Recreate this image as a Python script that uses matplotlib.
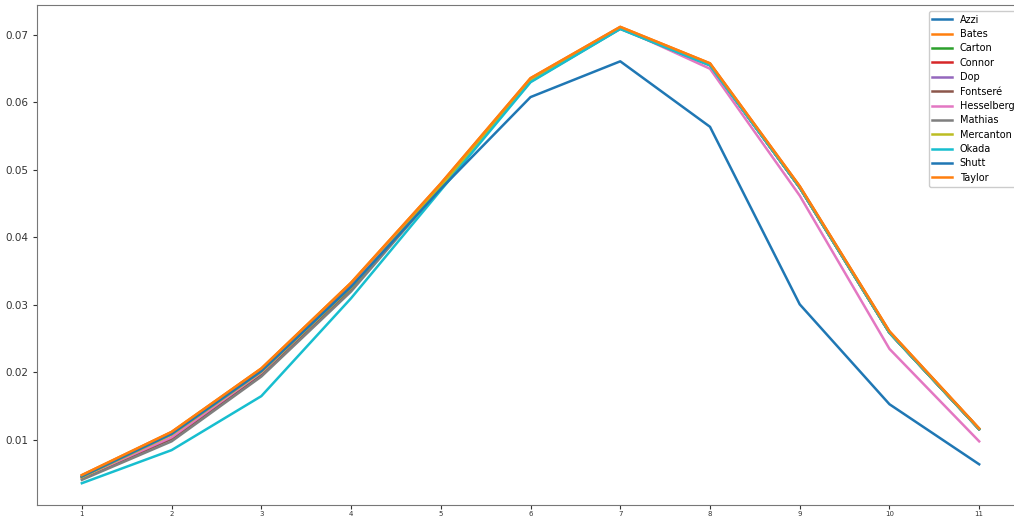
import numpy as np
import matplotlib
matplotlib.use("Agg")
import matplotlib.pyplot as plt

# x positions
x = np.arange(1, 12)

names = ["Azzi", "Bates", "Carton", "Connor", "Dop", "Fontseré", "Hesselberg",
         "Mathias", "Mercanton", "Okada", "Shutt", "Taylor"]

azzi = [0.0046, 0.0110, 0.0203, 0.0330, 0.0478, 0.0634, 0.0711, 0.0657, 0.0475, 0.0260, 0.0116]
bates = [0.0048, 0.0112, 0.0206, 0.0333, 0.0480, 0.0636, 0.0712, 0.0658, 0.0476, 0.0261, 0.0117]
carton = [0.0045, 0.0103, 0.0200, 0.0326, 0.0476, 0.0632, 0.0710, 0.0656, 0.0474, 0.0259, 0.0116]
connor = [0.0044, 0.0102, 0.0198, 0.0324, 0.0476, 0.0632, 0.0710, 0.0656, 0.0474, 0.0259, 0.0116]
dop = [0.0044, 0.0102, 0.0198, 0.0324, 0.0476, 0.0632, 0.0710, 0.0656, 0.0474, 0.0259, 0.0116]
fontsere = [0.0044, 0.0102, 0.0198, 0.0324, 0.0476, 0.0632, 0.0710, 0.0656, 0.0474, 0.0259, 0.0116]
hesselberg = [0.0045, 0.0104, 0.0200, 0.0327, 0.0478, 0.0634, 0.0711, 0.0650, 0.0462, 0.0235, 0.0098]
mathias = [0.0041, 0.0098, 0.0194, 0.0320, 0.0474, 0.0631, 0.0709, 0.0655, 0.0474, 0.0259, 0.0116]
mercanton = [0.0045, 0.0108, 0.0201, 0.0326, 0.0476, 0.0632, 0.0710, 0.0656, 0.0474, 0.0259, 0.0116]
okada = [0.0036, 0.0085, 0.0165, 0.0310, 0.0470, 0.0630, 0.0709, 0.0655, 0.0474, 0.0259, 0.0116]
shutt = [0.0046, 0.0109, 0.0202, 0.0327, 0.0472, 0.0608, 0.0661, 0.0564, 0.0301, 0.0153, 0.0064]
taylor = [0.0048, 0.0112, 0.0206, 0.0333, 0.0480, 0.0636, 0.0712, 0.0658, 0.0476, 0.0261, 0.0117]

series = [azzi, bates, carton, connor, dop, fontsere, hesselberg,
          mathias, mercanton, okada, shutt, taylor]

fig = plt.figure(figsize=(10.14, 5.17), dpi=100)
# the original axes runs past the right edge of the picture
ax = fig.add_axes([0.0365, 0.0232, 0.9734, 0.9671])

for name, vals in zip(names, series):
    ax.plot(x, vals, label=name, linewidth=1.8)

ax.set_xticks(x)
ax.set_yticks([0.01, 0.02, 0.03, 0.04, 0.05, 0.06, 0.07])
ax.set_ylim(0.00037, 0.07444)
ax.tick_params(axis="x", labelsize=5, length=3, pad=1.5, colors="#333333")
ax.tick_params(axis="y", labelsize=7.5, length=3, colors="#333333")
for s in ax.spines.values():
    s.set_color("#777777")

ax.legend(loc="upper right", fontsize=7, handlelength=2, labelspacing=0.45,
          borderaxespad=0.6, framealpha=1)

fig.savefig("out.png", dpi=100)
